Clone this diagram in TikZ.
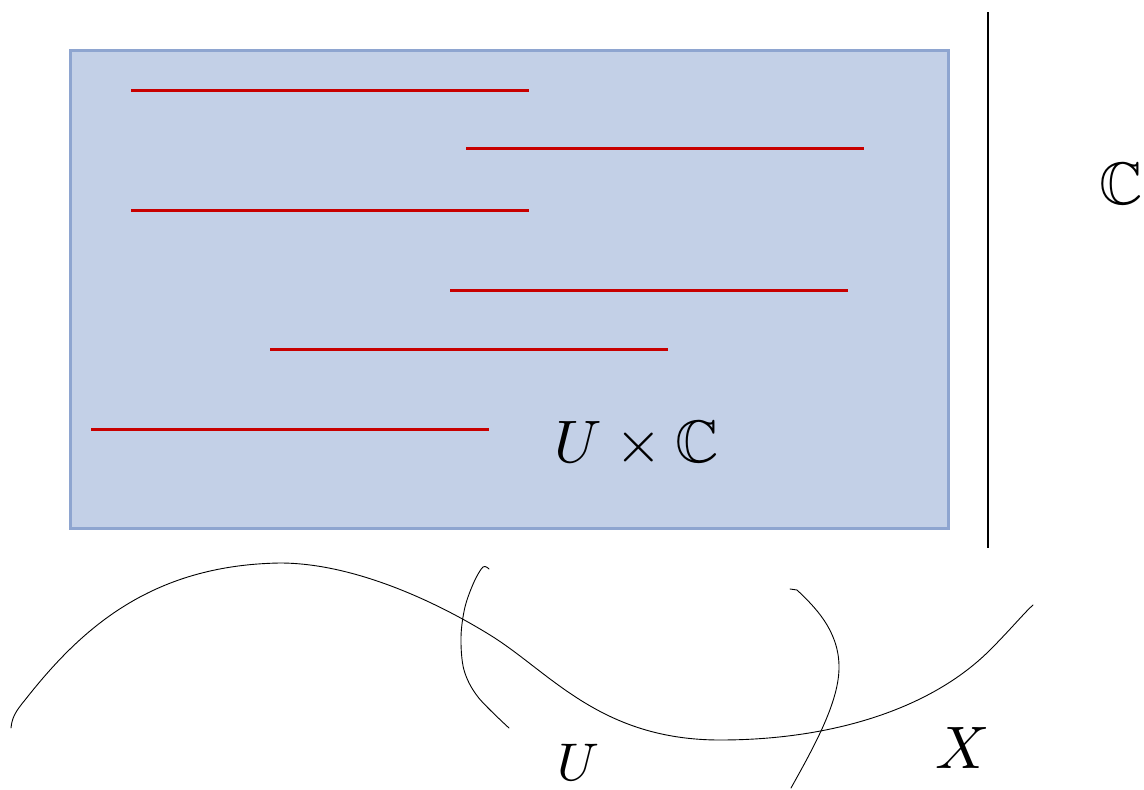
\documentclass[tikz,border=0pt]{standalone}
\usepackage{amssymb}
\usepackage{graphicx}
\definecolor{boxfill}{RGB}{195,208,231}
\definecolor{boxline}{RGB}{142,165,208}
\definecolor{redline}{RGB}{200,0,0}
\newcommand{\biglab}[1]{\scalebox{6}{#1}}
\tikzset{
  fibre/.style={draw=redline, line width=3pt},
  curveline/.style={draw=black, line width=0.9pt, line cap=round},
  biglabel/.style={inner sep=0pt}
}
\begin{document}
\begin{tikzpicture}[x=1pt,y=-1pt]
\useasboundingbox (0,0) rectangle (1144,790);
% product box
\draw[fill=boxfill, draw=boxline, line width=3pt] (70,50) rectangle (948,528);
% fibres
\draw[fibre] (131,90) -- (529,90);
\draw[fibre] (466,148) -- (864,148);
\draw[fibre] (131,210) -- (529,210);
\draw[fibre] (450,290) -- (848,290);
\draw[fibre] (270,349) -- (668,349);
\draw[fibre] (91,429) -- (489,429);
% vertical C axis
\draw[line width=1.4pt] (988,12) -- (988,548);
% labels
\node[biglabel] (uxc) at (637,444) {\biglab{$U\times\mathbb{C}$}};
\node[biglabel] (cc) at (1121,184) {\biglab{$\mathbb{C}$}};
\node[biglabel] (u) at (578,762) {\scalebox{5.3}{$U$}};
\node[biglabel] (x) at (963,748) {\biglab{$X$}};
% curve X
\draw[curveline] (11,728) .. controls (12,718) and (15,712) .. (25,700)
  .. controls (80,630) and (150,565) .. (280,563)
  .. controls (350,563) and (430,598) .. (490,635)
  .. controls (550,672) and (600,740) .. (720,740)
  .. controls (830,740) and (930,710) .. (990,650)
  .. controls (1010,630) and (1025,612) .. (1033,605);
% left bracket of U
\draw[curveline] plot[smooth, tension=0.55] coordinates {
 (489,569) (483,567) (474,582) (465,607) (461,637) (464,670) (478,697) (509,728)};
% right bracket of U
\draw[curveline] (790,589) -- (797,590)
  .. controls (815,607) and (838,630) .. (839,665)
  .. controls (840,700) and (815,745) .. (791,788);
\end{tikzpicture}
\end{document}
